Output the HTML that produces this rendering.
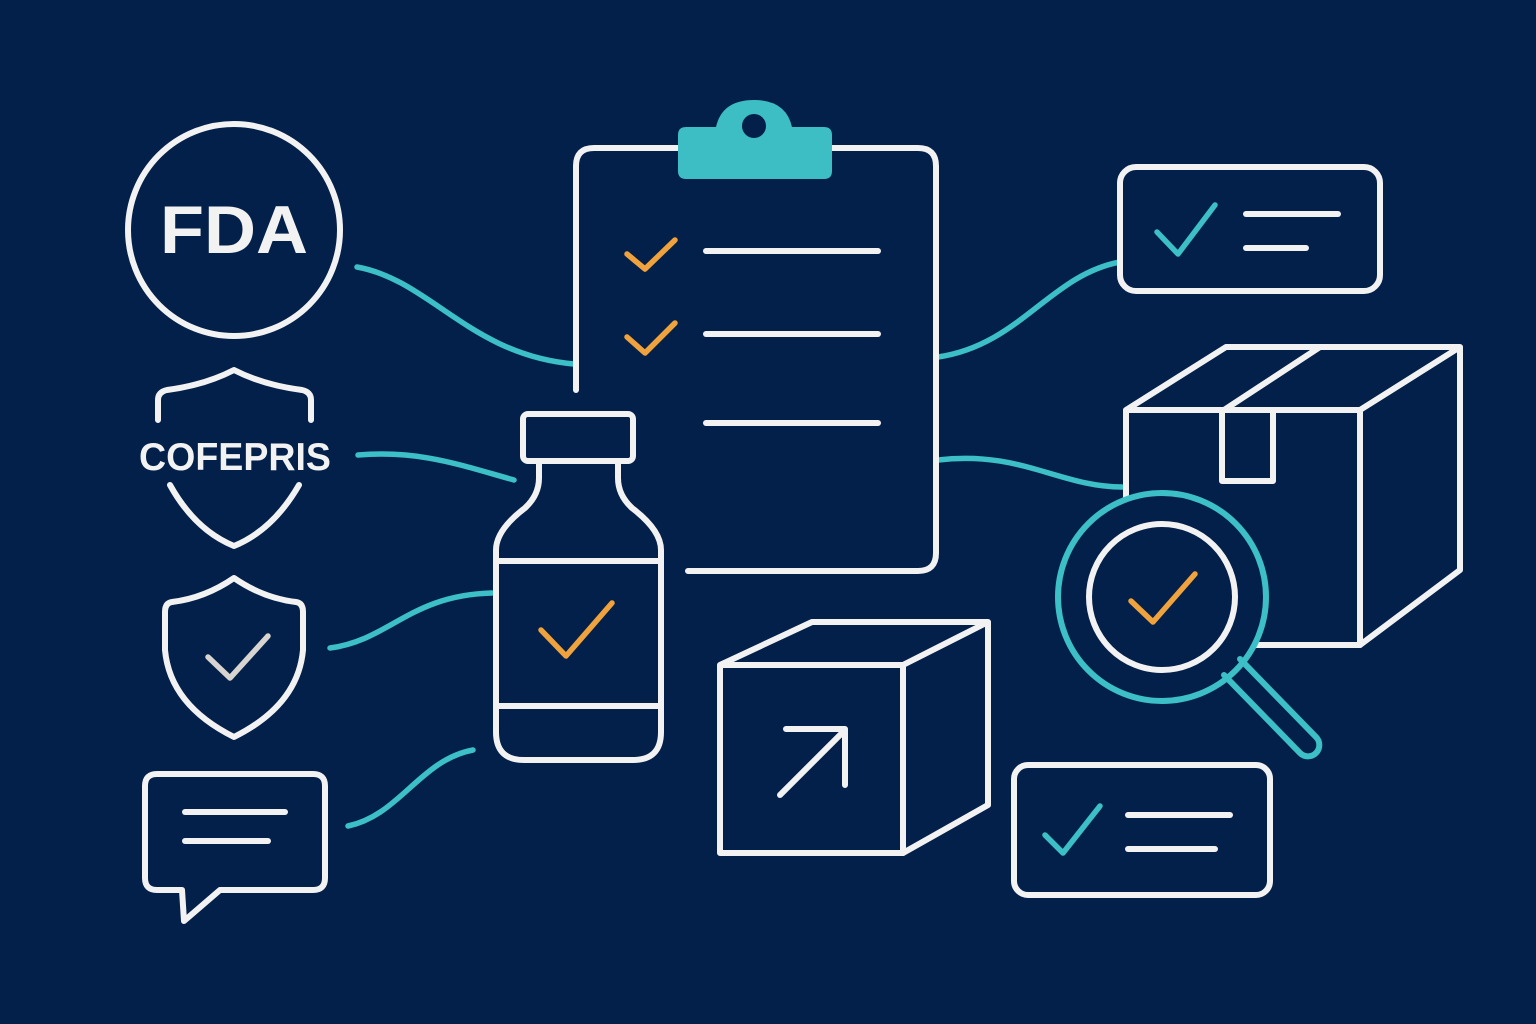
<!DOCTYPE html>
<html><head><meta charset="utf-8"><style>
html,body{margin:0;padding:0;background:#03204b;}
svg{display:block}
</style></head><body>
<svg width="1536" height="1024" viewBox="0 0 1536 1024" xmlns="http://www.w3.org/2000/svg">
<rect width="1536" height="1024" fill="#03204b"/>
<g fill="none" stroke-linecap="round" stroke-linejoin="round">
<g stroke="#3cbfc6" stroke-width="5.5">
<path d="M357 267 C430 280 470 355 574 364"/>
<path d="M358 455 C420 450 460 465 514 480"/>
<path d="M330 648 C390 640 410 595 492 593"/>
<path d="M348 826 C400 815 420 760 473 750"/>
<path d="M938 357 C1020 345 1050 275 1120 262"/>
<path d="M938 460 C1020 450 1060 487 1122 487"/>
</g>
<g stroke="#f2f2f2" stroke-width="6">
<circle cx="234" cy="230" r="106"/>
<path d="M158 420 L158 400 Q158 392 167 390 Q205 385 234 370 Q263 385 302 390 Q311 392 311 400 L311 420"/>
<path d="M170 485 Q195 530 234 546 Q273 530 299 485"/>
<path d="M234 578 Q205 598 172 602 Q165 603 165 612 L165 650 Q170 705 234 737 Q298 705 303 650 L303 612 Q303 603 296 602 Q263 598 234 578 Z"/>
<path d="M157 774 L313 774 Q325 774 325 786 L325 878 Q325 890 313 890 L220 890 L184 921 L182 890 L157 890 Q145 890 145 878 L145 786 Q145 774 157 774 Z"/>
<line x1="185" y1="812" x2="285" y2="812"/>
<line x1="185" y1="841" x2="268" y2="841"/>
<path d="M576 390 L576 166 Q576 148 594 148 L918 148 Q936 148 936 166 L936 553 Q936 571 918 571 L688 571"/>
<line x1="706" y1="251" x2="878" y2="251"/>
<line x1="706" y1="334" x2="878" y2="334"/>
<line x1="706" y1="423" x2="878" y2="423"/>
<rect x="523" y="414" width="110" height="47" rx="5"/>
<path d="M539 462 L539 478 Q539 495 525 508 Q496 530 496 550 L496 732 Q496 760 524 760 L633 760 Q661 760 661 732 L661 550 Q661 530 632 508 Q618 495 618 478 L618 462"/>
<line x1="496" y1="561" x2="661" y2="561"/>
<line x1="496" y1="706" x2="661" y2="706"/>
<rect x="1120" y="167" width="260" height="124" rx="16"/>
<line x1="1246" y1="214" x2="1338" y2="214"/>
<line x1="1246" y1="248" x2="1306" y2="248"/>
<path d="M1126 410 L1126 645 L1360 645 L1460 570 L1460 347 L1226 347 L1126 410 L1360 410 L1460 347"/>
<line x1="1360" y1="410" x2="1360" y2="645"/>
<line x1="1224" y1="410" x2="1320" y2="347"/>
<rect x="1222" y="410" width="51" height="71"/>
<path d="M720 665 L720 853 L903 853 L988 805 L988 622 L812 622 L720 665 L903 665 L988 622"/>
<line x1="903" y1="665" x2="903" y2="853"/>
<path d="M780 795 L845 730"/>
<path d="M786 729 L845 729 L845 785"/>
<rect x="1014" y="765" width="256" height="130" rx="14"/>
<line x1="1128" y1="815" x2="1230" y2="815"/>
<line x1="1128" y1="849" x2="1215" y2="849"/>
</g>
<circle cx="1162" cy="597" r="104" fill="#03204b" stroke="#3cbfc6" stroke-width="6"/>
<circle cx="1162" cy="597" r="73" stroke="#f2f2f2" stroke-width="6"/>
<path d="M1224 675 L1300 753 A11 11 0 0 0 1316 737 L1240 659" stroke="#3cbfc6" stroke-width="6"/>
<g stroke="#f0a33c" stroke-width="5.5">
<path d="M627 254 L645 269 L675 240"/>
<path d="M627 337 L645 353 L675 323"/>
<path d="M541 630 L566 656 L612 603"/>
<path d="M1131 601 L1153 622 L1195 574"/>
</g>
<g stroke="#3cbfc6" stroke-width="5.5">
<path d="M1157 232 L1178 254 L1215 205"/>
<path d="M1045 835 L1063 853 L1100 806"/>
</g>
<path d="M208 657 L230 678 L268 636" stroke="#d8d4cf" stroke-width="5.5"/>
</g>
<path d="M686 127 L716 127 Q722 100 754 100 Q786 100 792 127 L824 127 Q832 127 832 135 L832 171 Q832 179 824 179 L686 179 Q678 179 678 171 L678 135 Q678 127 686 127 Z" fill="#3dbec4"/>
<circle cx="754" cy="126" r="12" fill="#03204b"/>
<text x="234" y="253" font-family="Liberation Sans, sans-serif" font-size="68" font-weight="bold" fill="#f2f2f2" text-anchor="middle" textLength="148" lengthAdjust="spacingAndGlyphs">FDA</text>
<text x="235" y="470" font-family="Liberation Sans, sans-serif" font-size="39" font-weight="bold" fill="#f2f2f2" text-anchor="middle" textLength="192" lengthAdjust="spacingAndGlyphs">COFEPRIS</text>
</svg>
</body></html>
